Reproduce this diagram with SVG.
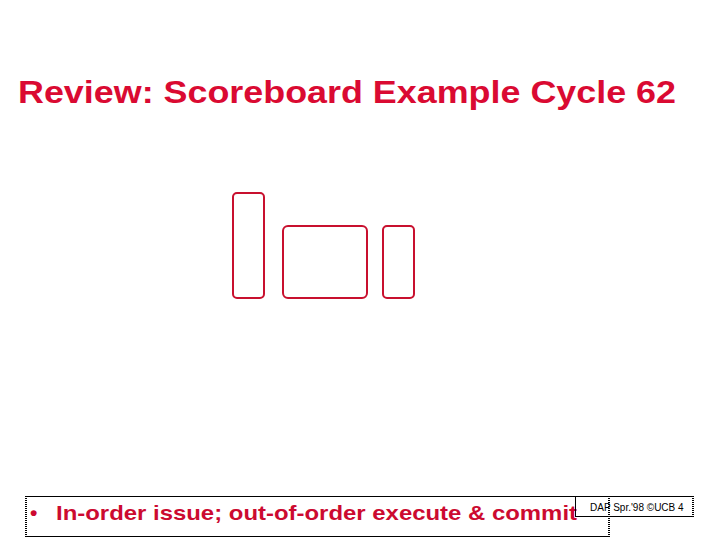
<svg xmlns="http://www.w3.org/2000/svg" width="720" height="540" viewBox="0 0 720 540">
<style>
.title{font-family:"Liberation Sans",Arial,sans-serif;font-weight:bold;font-size:31px;fill:#DA0A32}
.body{font-family:"Liberation Sans",Arial,sans-serif;font-weight:bold;font-size:21px;fill:#CC0A30}
.foot{font-family:"Liberation Sans",Arial,sans-serif;font-size:10px;fill:#000}
.unit{fill:none;stroke:#C8102E;stroke-width:2}
.solid{stroke:#000;stroke-width:1;fill:none}
.dot{stroke:#000;stroke-width:2;stroke-dasharray:1 1;fill:none}
</style>
<rect width="720" height="540" fill="#fff"/>
<text class="title" x="18" y="103" textLength="658" lengthAdjust="spacingAndGlyphs">Review: Scoreboard Example Cycle 62</text>
<g id="unit1"><rect class="unit" x="233" y="193" width="31" height="105" rx="4"/></g>
<g id="unit2"><rect class="unit" x="283" y="226" width="84" height="72" rx="5"/></g>
<g id="unit3"><rect class="unit" x="383" y="226" width="31" height="72" rx="4"/></g>
<g id="footer-body">
<line class="solid" x1="25" y1="496.5" x2="609" y2="496.5"/>
<line class="solid" x1="25" y1="536.5" x2="609" y2="536.5"/>
<line class="dot" x1="26" y1="496" x2="26" y2="537"/>
<text class="body" x="30" y="520">•</text>
<text class="body" x="56" y="520" textLength="521" lengthAdjust="spacingAndGlyphs">In-order issue; out-of-order execute &amp; commit</text>
</g>
<g id="footer-credit">
<line class="solid" x1="609" y1="496.5" x2="694" y2="496.5"/>
<line class="solid" x1="575.5" y1="496" x2="575.5" y2="516.5"/>
<line class="solid" x1="575" y1="516.5" x2="694" y2="516.5"/>
<text class="foot" x="590" y="511">DAP Spr.'98 ©UCB 4</text>
<line class="dot" x1="609" y1="496" x2="609" y2="537"/>
<line class="dot" x1="693" y1="496" x2="693" y2="517"/>
</g>
</svg>
